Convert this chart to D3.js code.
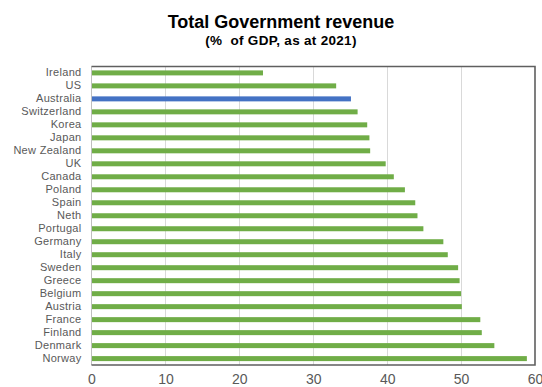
<!DOCTYPE html>
<html>
<head>
<meta charset="utf-8">
<script src="https://cdn.jsdelivr.net/npm/d3@7"></script>
<style>
  html, body { margin: 0; padding: 0; background: #fff; }
  svg { display: block; }
  text { font-family: "Liberation Sans", Arial, sans-serif; }
</style>
</head>
<body>
<svg id="chart" width="542" height="387"></svg>
<script>
// Total government revenue, % of GDP (2021)
const countries = ["Ireland", "US", "Australia", "Switzerland", "Korea", "Japan", "New Zealand", "UK",
  "Canada", "Poland", "Spain", "Neth", "Portugal", "Germany", "Italy", "Sweden", "Greece",
  "Belgium", "Austria", "France", "Finland", "Denmark", "Norway"];
const revenue = [23.2, 33.1, 35.1, 36.0, 37.3, 37.6, 37.7, 39.8, 40.9, 42.4, 43.8, 44.1, 44.9,
  47.6, 48.2, 49.6, 49.8, 50.0, 50.1, 52.6, 52.8, 54.5, 58.9];
const highlighted = ["Australia"];
const xTicks = [0, 10, 20, 30, 40, 50, 60];
const title = "Total Government revenue";
const subtitle = "(%\u00a0 of GDP,  as at 2021)";

const rows = countries.map((c, i) => ({ country: c, value: revenue[i] }));

const svg = d3.select("#chart");
const plot = { left: 91.5, right: 535, top: 66.5, bottom: 365 };

const x = d3.scaleLinear().domain([0, 60]).range([plot.left, plot.right]);
const y = d3.scaleBand().domain(countries).range([plot.top, plot.bottom]).paddingInner(0.615).paddingOuter(0.3);

// Titles
svg.append("text")
  .attr("x", 281).attr("y", 28)
  .attr("text-anchor", "middle")
  .attr("font-size", 18).attr("font-weight", "bold").attr("fill", "#000")
  .text(title);
svg.append("text")
  .attr("x", 281).attr("y", 45)
  .attr("text-anchor", "middle")
  .attr("font-size", 13.5).attr("font-weight", "bold").attr("fill", "#000")
  .attr("letter-spacing", 0.3)
  .text(subtitle);

// Vertical gridlines
svg.append("g")
  .selectAll("line")
  .data(xTicks.slice(1, -1))
  .join("line")
  .attr("x1", d => Math.round(x(d)) + 0.5).attr("x2", d => Math.round(x(d)) + 0.5)
  .attr("y1", plot.top).attr("y2", plot.bottom)
  .attr("stroke", "#d9d9d9").attr("stroke-width", 1);

// Bars
svg.append("g")
  .selectAll("rect")
  .data(rows)
  .join("rect")
  .attr("x", x(0))
  .attr("y", d => y(d.country))
  .attr("width", d => x(d.value) - x(0))
  .attr("height", y.bandwidth())
  .attr("fill", d => highlighted.includes(d.country) ? "#4472c4" : "#70ad47");

// Plot frame: light left axis, darker top/right/bottom edges
svg.append("line")
  .attr("x1", plot.left).attr("x2", plot.left)
  .attr("y1", plot.top).attr("y2", plot.bottom)
  .attr("stroke", "#bfbfbf").attr("stroke-width", 1);
svg.append("path")
  .attr("d", `M${plot.left},${plot.top}H${plot.right}V${plot.bottom}H${plot.left}`)
  .attr("fill", "none")
  .attr("stroke", "#5f5f5f").attr("stroke-width", 1.6);

// Category axis
const yAxis = d3.axisLeft(y).tickSize(0).tickPadding(10);
const gy = svg.append("g").attr("transform", `translate(${plot.left},0)`).call(yAxis);
gy.select(".domain").remove();
gy.selectAll("text")
  .attr("font-family", "\"Liberation Sans\", Arial, sans-serif")
  .attr("font-size", 11).attr("fill", "#595959").attr("letter-spacing", 0.3);

// Value axis
const xAxis = d3.axisBottom(x).tickValues(xTicks).tickSize(0).tickPadding(0);
const gx = svg.append("g").attr("transform", `translate(0,${plot.bottom})`).call(xAxis);
gx.select(".domain").remove();
gx.selectAll("text")
  .attr("font-family", "\"Liberation Sans\", Arial, sans-serif")
  .attr("font-size", 14).attr("fill", "#595959")
  .attr("dy", null).attr("y", 19);
</script>
</body>
</html>
